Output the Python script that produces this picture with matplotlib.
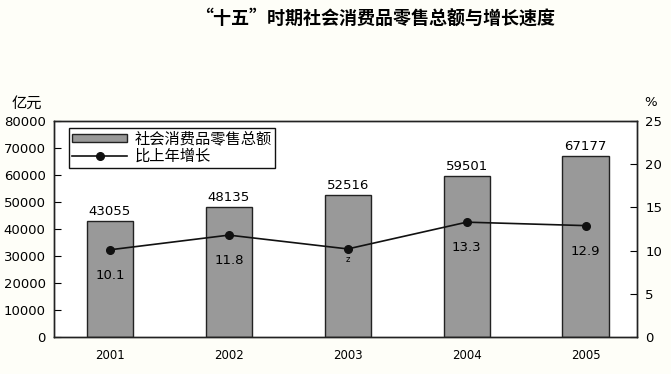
import matplotlib.pyplot as plt
import numpy as np

plt.rcParams['font.family'] = ['Noto Sans CJK SC', 'DejaVu Sans']

years = ["2001", "2002", "2003", "2004", "2005"]
sales = [43055, 48135, 52516, 59501, 67177]
growth = [10.1, 11.8, 10.2, 13.3, 12.9]
growth_labels = ["10.1", "11.8", "z", "13.3", "12.9"]

fig = plt.figure(figsize=(6.71, 3.74), dpi=100, facecolor="#fefef8")
ax = fig.add_axes([0.0805, 0.099, 0.8685, 0.577])
ax.set_facecolor("white")
x = np.arange(len(years))

bars = ax.bar(x, sales, width=0.39, color="#999999", edgecolor="#222222",
              linewidth=1.0, label="社会消费品零售总额", zorder=2)
for xi, v in zip(x, sales):
    ax.text(xi, v + 1200, str(v), ha="center", va="bottom", fontsize=9.5,
            family="DejaVu Sans")

ax.set_xlim(-0.47, 4.43)
ax.set_ylim(0, 80000)
ax.set_yticks(range(0, 80001, 10000))
ax.set_xticks(x)
ax.set_xticklabels(years, fontsize=8.5, family="DejaVu Sans")
ax.tick_params(axis="x", length=0, pad=9)
ax.tick_params(axis="y", direction="in", length=5, labelsize=9.5, pad=6)
for lab in ax.get_yticklabels():
    lab.set_family("DejaVu Sans")

ax2 = ax.twinx()
line, = ax2.plot(x, growth, color="#111111", linewidth=1.2, marker="o",
                 markersize=5.5, label="比上年增长", zorder=3)
for xi, v, t in zip(x, growth, growth_labels):
    fs = 6 if t == "z" else 9.5
    off = -0.7 if t == "z" else -2.2
    ax2.text(xi, v + off, t, ha="center", va="top", fontsize=fs,
             family="DejaVu Sans")
ax2.set_ylim(0, 25)
ax2.set_yticks(range(0, 26, 5))
ax2.tick_params(axis="y", direction="in", length=5, labelsize=9.5, pad=6)
for lab in ax2.get_yticklabels():
    lab.set_family("DejaVu Sans")

for a in (ax, ax2):
    for s in a.spines.values():
        s.set_color("#222222")
        s.set_linewidth(1.0)

ax.legend([bars, line], ["社会消费品零售总额", "比上年增长"], loc="upper left",
          bbox_to_anchor=(0.026, 0.97), fontsize=11, frameon=True,
          fancybox=False, edgecolor="#111111", framealpha=1,
          handlelength=3.6, handleheight=0.45, borderpad=0.2,
          labelspacing=0.0, handletextpad=0.5, borderaxespad=0)

fig.text(0.559, 0.952, "“十五”时期社会消费品零售总额与增长速度", ha="center",
         va="center", fontsize=13, fontweight="bold")
fig.text(0.04, 0.725, "亿元", ha="center", va="center", fontsize=11,
         style="italic")
fig.text(0.969, 0.725, "%", ha="center", va="center", fontsize=9.5,
         family="DejaVu Sans")

fig.savefig("out.png", dpi=100, facecolor=fig.get_facecolor())
